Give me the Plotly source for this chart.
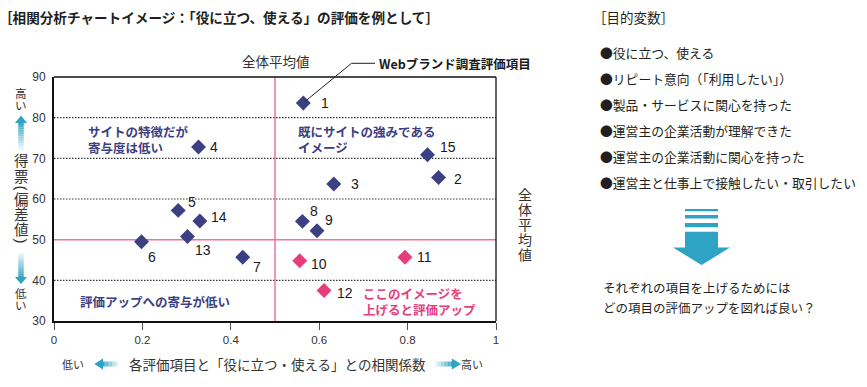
import plotly.graph_objects as go

# ---------------- data ----------------
item_labels = ["1", "2", "3", "4", "5", "6", "7", "8", "9", "10", "11", "12", "13", "14", "15"]
corr_values = [0.564, 0.870, 0.633, 0.327, 0.281, 0.198, 0.427, 0.562, 0.595, 0.556, 0.794, 0.611, 0.302, 0.330, 0.845]
score_values = [83.6, 65.3, 63.7, 72.8, 57.2, 49.5, 45.7, 54.5, 52.2, 44.8, 45.7, 37.5, 50.8, 54.6, 70.9]
avg_corr = 0.5
avg_score = 50
grid_levels = [40, 60, 70, 80]
x_ticks = [0, 0.2, 0.4, 0.6, 0.8, 1]
x_tick_labels = ["0", "0.2", "0.4", "0.6", "0.8", "1"]
y_ticks = [30, 40, 50, 60, 70, 80, 90]
y_tick_labels = ["30", "40", "50", "60", "70", "80", "90"]
target_vars = [
    "●役に立つ、使える",
    "●リピート意向（「利用したい」）",
    "●製品・サービスに関心を持った",
    "●運営主の企業活動が理解できた",
    "●運営主の企業活動に関心を持った",
    "●運営主と仕事上で接触したい・取引したい",
]

# label offsets (px) of the item numbers relative to their markers
label_dx = [16, 13, 15, 9, 8, 4, 8, 6, 6, 9, 10, 11, 6, 9, 11]
label_dy = [0, 2, 0, 0, -8, 15, 10, -10, -11, 3, 0, 2, 14, -4, -8]

# ---------------- style ----------------
W, H = 867, 387
L, R, T, B = 54, 371, 77, 66
PW, PH = W - L - R, H - T - B
NAVY = "#3d3f83"
PINK = "#e63d7d"
PINKLINE = "#ef7497"
BLUE = "#2ea3c4"
JP = "Noto Sans CJK JP"
NUM = "Liberation Sans"


def px(x):
    return (x - L) / PW


def py(y):
    return (H - B - y) / PH


colors = [PINK if (c > avg_corr and s < avg_score) else NAVY for c, s in zip(corr_values, score_values)]

fig = go.Figure()
fig.add_trace(go.Scatter(
    x=corr_values, y=score_values, mode="markers",
    marker=dict(symbol="diamond", size=11.5, color=colors, line=dict(width=0)),
    hoverinfo="skip", showlegend=False,
))

shapes = []
annotations = []

# grid lines
for g in grid_levels:
    shapes.append(dict(type="line", xref="x", yref="y", x0=0, x1=1, y0=g, y1=g,
                       line=dict(color="#333333", width=1.2, dash="1.5px,1.5px"), layer="below"))
shapes.append(dict(type="line", xref="x", yref="y", x0=0, x1=1, y0=avg_score, y1=avg_score,
                   line=dict(color=PINKLINE, width=1.5), layer="below"))
shapes.append(dict(type="line", xref="x", yref="y", x0=avg_corr, x1=avg_corr, y0=30, y1=90,
                   line=dict(color=PINKLINE, width=1.5), layer="below"))
# top/right frame
shapes.append(dict(type="line", xref="paper", yref="paper", x0=0, x1=1, y0=1, y1=1,
                   line=dict(color="#111111", width=1.3)))
shapes.append(dict(type="line", xref="paper", yref="paper", x0=1, x1=1, y0=0, y1=1,
                   line=dict(color="#111111", width=1.3)))

# item number labels
for lab, c, s, dx, dy in zip(item_labels, corr_values, score_values, label_dx, label_dy):
    annotations.append(dict(x=c, y=s, xref="x", yref="y", text=lab, showarrow=False,
                            xanchor="left", yanchor="middle", xshift=dx, yshift=-dy,
                            font=dict(family=NUM, size=14, color="#1a1a1a")))


def ann(x, y, text, size=13, color="#222222", anchor="left", bold=False, family=JP, angle=0):
    t = f"<b>{text}</b>" if bold else text
    annotations.append(dict(x=px(x), y=py(y), xref="paper", yref="paper", text=t, showarrow=False,
                            xanchor=anchor, yanchor="middle", align=anchor,
                            textangle=angle, font=dict(family=family, size=size, color=color)))


def vtext(x, y_center, chars, char_size, pitch, color="#333333"):
    """vertical (stacked) text in one annotation; line pitch set by the base font size"""
    body = "<br>".join(f'<span style="font-size:{char_size}px">{c}</span>' for c in chars)
    ann(x, y_center, body, size=pitch / 1.3, color=color, anchor="center")


# quadrant texts
ann(86, 139.5, "サイトの特徴だが<br>寄与度は低い", size=12.5, color=NAVY, bold=True)
ann(296, 139, "既にサイトの強みである<br>イメージ", size=12.5, color=NAVY, bold=True)
ann(78, 301, "評価アップへの寄与が低い", size=12.5, color=NAVY, bold=True)
ann(361, 301, "ここのイメージを<br>上げると評価アップ", size=12.5, color=PINK, bold=True)

# title
ann(-3, 17, "［相関分析チャートイメージ：「役に立つ、使える」の評価を例として］", size=13.6, color="#231f20", bold=True)
# average labels
ann(276, 61, "全体平均値", size=13.5, color="#333333", anchor="center")
vtext(525, 224, "全体平均値", 14, 15)
# web brand label + leader
ann(377, 63, "Webブランド調査評価項目", size=12.5, color="#1a1a1a", bold=True)
shapes.append(dict(type="line", xref="paper", yref="paper", x0=px(351.5), x1=px(375), y0=py(63.3), y1=py(63.3),
                   line=dict(color="#222222", width=1)))
shapes.append(dict(type="line", xref="paper", yref="paper", x0=px(351.5), x1=px(305), y0=py(63.3), y1=py(101.5),
                   line=dict(color="#222222", width=1)))

# left vertical axis title: 得票（偏差値）
vtext(21, 98.5, "高い", 11.5, 11.5)
vtext(21, 167, "得票", 14.5, 16)
ann(21, 187.5, "(", size=15, color="#333333", anchor="center", family=NUM, angle=90)
vtext(21, 213, "偏差値", 14.5, 15)
ann(21, 240.5, ")", size=15, color="#333333", anchor="center", family=NUM, angle=90)
vtext(21, 298.5, "低い", 11.5, 11.5)


def mix(c1, c2, t):
    a = [int(c1[i:i + 2], 16) for i in (1, 3, 5)]
    b = [int(c2[i:i + 2], 16) for i in (1, 3, 5)]
    return "#%02x%02x%02x" % tuple(round(a[k] + (b[k] - a[k]) * t) for k in range(3))


def poly(points, color):
    d = "M " + " L ".join(f"{px(x):.5f},{py(y):.5f}" for x, y in points) + " Z"
    shapes.append(dict(type="path", xref="paper", yref="paper", path=d,
                       fillcolor=color, line=dict(width=0)))


def vshaft(xc, w, y_from, y_to, c_from, c_to, n=12):
    for k in range(n):
        ya = y_from + (y_to - y_from) * k / n
        yb = y_from + (y_to - y_from) * (k + 1) / n
        col = mix(c_from, c_to, (k + 0.5) / n)
        poly([(xc - w / 2, ya), (xc + w / 2, ya), (xc + w / 2, yb), (xc - w / 2, yb)], col)


def hshaft(yc, h, x_from, x_to, c_from, c_to, n=12):
    for k in range(n):
        xa = x_from + (x_to - x_from) * k / n
        xb = x_from + (x_to - x_from) * (k + 1) / n
        col = mix(c_from, c_to, (k + 0.5) / n)
        poly([(xa, yc - h / 2), (xb, yc - h / 2), (xb, yc + h / 2), (xa, yc + h / 2)], col)


PALE = "#f4fafc"
# up arrow
poly([(21, 115.5), (27, 123), (15, 123)], BLUE)
vshaft(21, 5.5, 122.8, 150, BLUE, PALE)
# down arrow
vshaft(21, 5.5, 277.2, 253, BLUE, PALE)
poly([(21, 284), (27, 277), (15, 277)], BLUE)

# bottom axis title and arrows
ann(73, 364, "低い", size=11, color="#333333", anchor="center")
poly([(94.3, 364), (103, 358.5), (103, 369.5)], BLUE)
hshaft(364, 5, 102.8, 119, BLUE, PALE)
ann(277, 364, "各評価項目と「役に立つ・使える」との相関係数", size=13.5, color="#333333", anchor="center")
hshaft(364, 5, 452, 435, BLUE, PALE)
poly([(461, 364), (451.8, 358.5), (451.8, 369.5)], BLUE)
ann(472, 364, "高い", size=11, color="#333333", anchor="center")

# right panel
ann(591, 17, "［目的変数］", size=13.5, color="#231f20")
for i, t in enumerate(target_vars):
    ann(598, 53 + i * 25.8, t, size=12.8, color="#231f20")
for y0, y1 in [(209, 211.2), (215, 218.6), (223, 227.2)]:
    poly([(685, y0), (718, y0), (718, y1), (685, y1)], BLUE)
poly([(685, 231.7), (718, 231.7), (718, 247.5), (730, 247.5), (701.5, 265), (673, 247.5), (685, 247.5)], BLUE)
ann(601, 287, "それぞれの項目を上げるためには", size=12.5, color="#231f20")
ann(601, 307, "どの項目の評価アップを図れば良い？", size=12.5, color="#231f20")

fig.update_layout(
    width=W, height=H,
    margin=dict(l=L, r=R, t=T, b=B),
    paper_bgcolor="white", plot_bgcolor="white",
    shapes=shapes, annotations=annotations,
    showlegend=False,
    xaxis=dict(range=[0, 1], tickvals=x_ticks, ticktext=x_tick_labels, showgrid=False, zeroline=False,
               showline=True, linecolor="#111111", linewidth=1.5, ticks="outside", ticklen=7,
               tickwidth=1.2, tickcolor="#555555", tickfont=dict(family=NUM, size=11.5, color="#333333"),
               fixedrange=True),
    yaxis=dict(range=[30, 90], tickvals=y_ticks, ticktext=y_tick_labels, showgrid=False, zeroline=False,
               showline=True, linecolor="#111111", linewidth=2, ticks="", ticklabelstandoff=4,
               tickfont=dict(family=NUM, size=12, color="#333333"), fixedrange=True),
)

fig.write_html("out.html", config={"displayModeBar": False},
               post_script="document.body.style.margin='0';document.body.style.overflow='hidden';")
